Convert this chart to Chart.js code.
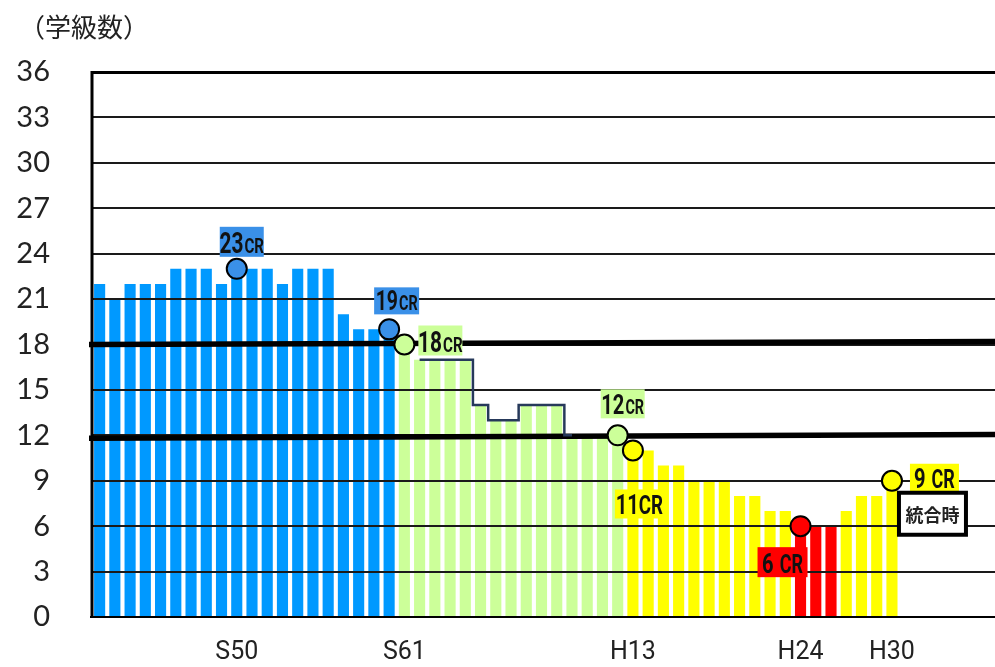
<!DOCTYPE html>
<html>
<head>
<meta charset="utf-8">
<script src="https://cdn.jsdelivr.net/npm/chart.js@4.4.1/dist/chart.umd.min.js"></script>
<style>
  html, body { margin: 0; padding: 0; background: #ffffff; }
  #wrap { width: 995px; height: 667px; position: relative; }
</style>
</head>
<body>
<div id="wrap"><canvas id="chart" width="995" height="667"></canvas></div>
<script>
// School years, Showa 41 through Heisei 30, followed by empty years to the right edge
const years = [
  'S41','S42','S43','S44','S45','S46','S47','S48','S49','S50',
  'S51','S52','S53','S54','S55','S56','S57','S58','S59','S60',
  'S61','S62','S63','H1','H2','H3','H4','H5','H6','H7',
  'H8','H9','H10','H11','H12','H13','H14','H15','H16','H17',
  'H18','H19','H20','H21','H22','H23','H24','H25','H26','H27',
  'H28','H29','H30','R1','R2','R3','R4','R5','R6'
];

// Year labels printed under the axis
const shownYearLabels = ['S50', 'S61', 'H13', 'H24', 'H30'];

// Number of classes per year (S41 .. H30)
const classCounts = [
  22, 21, 22, 22, 22, 23, 23, 23, 22, 23,
  23, 23, 22, 23, 23, 23, 20, 19, 19, 19,
  18, 17, 17, 17, 17, 14, 13, 13, 14, 14,
  14, 12, 12, 12, 12, 11, 11, 10, 10, 9,
  9, 9, 8, 8, 7, 7, 6, 6, 6, 7,
  8, 8, 9
];

// Stepped outline over the S62 .. H9 bars
const outlineYears = ['S62','S63','H1','H2','H3','H4','H5','H6','H7','H8','H9'];
const outlineValues = [17, 17, 17, 17, 14, 13, 13, 14, 14, 14, 12];

// Highlighted years and their class counts
const markerYears = ['S50', 'S60', 'S61', 'H12', 'H13', 'H24', 'H30'];
const markerValues = [23, 19, 18, 12, 11, 6, 9];

// Two bold guide lines: value at the left edge, value at the right edge
const guideLineStarts = [18.0, 11.8];
const guideLineEnds = [18.2, 12.05];

// Y axis ticks
const yTicks = [0, 3, 6, 9, 12, 15, 18, 21, 24, 27, 30, 33, 36];

// ---- styling ----
const BLUE = '#0099ff', GREEN = '#ccff99', YELLOW = '#ffff00', RED = '#ff0000';
const MARK_BLUE = '#3a90e8';
const colourSpans = [
  { from: 'S41', to: 'S60', color: BLUE },
  { from: 'S61', to: 'H12', color: GREEN },
  { from: 'H13', to: 'H30', color: YELLOW },
  { from: 'H24', to: 'H26', color: RED }
];
const markerFills = [MARK_BLUE, MARK_BLUE, GREEN, GREEN, YELLOW, RED, YELLOW];

const LABEL_FONT = 'Roboto, "Noto Sans", sans-serif';
const NUMFONT = 'Lato, "Open Sans", sans-serif';
const CJK = '"Noto Sans CJK JP", "Noto Sans", sans-serif';
const CONDENSE = 0.72;   // horizontal squeeze for callout lettering

// Callout boxes, placed relative to the marker they describe: [dx, dy, w, h]
const callouts = [
  { year: 'S50', big: '23', small: 'CR', fill: MARK_BLUE, box: [-17, -42, 44, 30], bigSize: 29, smallSize: 21, gap: 1 },
  { year: 'S60', big: '19', small: 'CR', fill: MARK_BLUE, box: [-15, -42, 45, 27], bigSize: 27, smallSize: 20, gap: 1 },
  { year: 'S61', big: '18', small: 'CR', fill: GREEN, box: [14, -19, 44, 30], bigSize: 29, smallSize: 21, gap: 1 },
  { year: 'H12', big: '12', small: 'CR', fill: GREEN, box: [-17, -46, 44, 29], bigSize: 28, smallSize: 20, gap: 1 },
  { year: 'H13', big: '11', small: 'CR', fill: YELLOW, box: [-18, 39, 49, 29], bigSize: 28, smallSize: 26, gap: 0 },
  { year: 'H24', big: '6', small: 'CR', fill: RED, box: [-43, 21, 50, 30], bigSize: 28, smallSize: 25, gap: 6 },
  { year: 'H30', big: '9', small: 'CR', fill: YELLOW, box: [18, -17, 49, 28], bigSize: 28, smallSize: 25, gap: 6 }
];
const mergeNote = { year: 'H30', text: '統合時', box: [7, 12, 67, 42] };

function spanColour(label) {
  const i = years.indexOf(label);
  let c = null;
  colourSpans.forEach(s => {
    if (i >= years.indexOf(s.from) && i <= years.indexOf(s.to)) c = s.color;
  });
  return c;
}

const barData = years.map((y, i) => (i < classCounts.length ? classCounts[i] : null));
const barColours = years.map(y => spanColour(y) || BLUE);
const outlineData = years.map(y => {
  const k = outlineYears.indexOf(y);
  return k >= 0 ? outlineValues[k] : null;
});
const markerData = years.map(y => {
  const k = markerYears.indexOf(y);
  return k >= 0 ? markerValues[k] : null;
});
const markerColours = years.map(y => {
  const k = markerYears.indexOf(y);
  return k >= 0 ? markerFills[k] : 'rgba(0,0,0,0)';
});

// Grid, frame and guide lines sit on top of the bars but under markers and callouts
const gridOverBars = {
  id: 'gridOverBars',
  afterDatasetDraw(chart, args) {
    if (args.index !== 0) return;
    const { ctx, chartArea: a } = chart;
    const y = chart.scales.y;
    const right = chart.width;
    ctx.save();
    ctx.strokeStyle = '#1a1a1a';
    ctx.lineWidth = 2;
    yTicks.forEach(v => {
      if (v === 0 || v === 36) return;
      const py = Math.round(y.getPixelForValue(v));
      ctx.beginPath();
      ctx.moveTo(a.left, py);
      ctx.lineTo(right, py);
      ctx.stroke();
    });
    ctx.strokeStyle = '#000';
    // top edge
    ctx.lineWidth = 3;
    const top = Math.round(y.getPixelForValue(36)) + 0.5;
    ctx.beginPath(); ctx.moveTo(a.left, top); ctx.lineTo(right, top); ctx.stroke();
    // bottom edge
    ctx.lineWidth = 2;
    const bottom = Math.round(y.getPixelForValue(0));
    ctx.beginPath(); ctx.moveTo(a.left - 2, bottom); ctx.lineTo(right, bottom); ctx.stroke();
    // left axis
    ctx.lineWidth = 3;
    ctx.beginPath(); ctx.moveTo(a.left, top - 1.5); ctx.lineTo(a.left, bottom + 1); ctx.stroke();
    // bold guide lines
    ctx.lineWidth = 5.5;
    guideLineStarts.forEach((v0, k) => {
      ctx.beginPath();
      ctx.moveTo(a.left - 3, y.getPixelForValue(v0));
      ctx.lineTo(right, y.getPixelForValue(guideLineEnds[k]));
      ctx.stroke();
    });
    ctx.restore();
  }
};

function squeezedText(ctx, text, x, base) {
  ctx.save();
  ctx.translate(x, base);
  ctx.scale(CONDENSE, 1);
  ctx.fillText(text, 0, 0);
  ctx.restore();
}

function drawCallout(ctx, c, cx, cy) {
  const [dx, dy, w, h] = c.box;
  const x = cx + dx, top = cy + dy;
  ctx.fillStyle = c.fill;
  ctx.fillRect(x, top, w, h);
  const bigFont = `bold ${c.bigSize}px ${LABEL_FONT}`;
  const smallFont = `bold ${c.smallSize}px ${LABEL_FONT}`;
  ctx.font = bigFont;
  const w1 = ctx.measureText(c.big).width * CONDENSE;
  ctx.font = smallFont;
  const w2 = ctx.measureText(c.small).width * CONDENSE;
  const tx = x + (w - (w1 + c.gap + w2)) / 2;
  const base = top + h - 4;
  ctx.fillStyle = '#111';
  ctx.textAlign = 'left';
  ctx.textBaseline = 'alphabetic';
  ctx.font = bigFont;
  squeezedText(ctx, c.big, tx, base);
  ctx.font = smallFont;
  squeezedText(ctx, c.small, tx + w1 + c.gap, base);
}

const annotations = {
  id: 'annotations',
  afterDatasetsDraw(chart) {
    const { ctx } = chart;
    const xs = chart.scales.x, ys = chart.scales.y;
    ctx.save();
    callouts.forEach(c => {
      const k = markerYears.indexOf(c.year);
      const cx = xs.getPixelForValue(years.indexOf(c.year));
      const cy = ys.getPixelForValue(markerValues[k]);
      drawCallout(ctx, c, cx, cy);
    });
    // merge note box
    {
      const k = markerYears.indexOf(mergeNote.year);
      const cx = xs.getPixelForValue(years.indexOf(mergeNote.year));
      const cy = ys.getPixelForValue(markerValues[k]);
      const [dx, dy, w, h] = mergeNote.box;
      ctx.fillStyle = '#fff';
      ctx.fillRect(cx + dx, cy + dy, w, h);
      ctx.lineWidth = 4;
      ctx.strokeStyle = '#000';
      ctx.strokeRect(cx + dx, cy + dy, w, h);
      ctx.fillStyle = '#222';
      ctx.font = `bold 18px ${CJK}`;
      ctx.textAlign = 'center';
      ctx.textBaseline = 'middle';
      ctx.fillText(mergeNote.text, cx + dx + w / 2, cy + dy + h / 2 + 1);
    }
    // unit caption
    ctx.fillStyle = '#222';
    ctx.font = `26px ${CJK}`;
    ctx.textAlign = 'left';
    ctx.textBaseline = 'middle';
    ctx.fillText('（学級数）', 19, 27);
    ctx.restore();
  }
};

new Chart(document.getElementById('chart'), {
  data: {
    labels: years,
    datasets: [
      {
        type: 'bar',
        label: '学級数',
        data: barData,
        backgroundColor: barColours,
        borderWidth: 0,
        barPercentage: 0.73,
        categoryPercentage: 1.0,
        order: 3
      },
      {
        type: 'line',
        label: 'outline',
        data: outlineData,
        stepped: 'middle',
        borderColor: '#26395a',
        borderWidth: 2.5,
        pointRadius: 0,
        fill: false,
        spanGaps: false,
        order: 2
      },
      {
        type: 'line',
        label: 'markers',
        data: markerData,
        showLine: false,
        pointRadius: 10,
        pointHoverRadius: 10,
        pointBorderWidth: 2,
        pointBorderColor: '#000',
        pointBackgroundColor: markerColours,
        order: 1
      }
    ]
  },
  options: {
    responsive: false,
    animation: false,
    devicePixelRatio: 1,
    layout: { autoPadding: false, padding: { top: 72, right: 4, bottom: 0, left: 0 } },
    plugins: {
      legend: { display: false },
      tooltip: { enabled: false },
      title: { display: false }
    },
    scales: {
      x: {
        type: 'category',
        offset: true,
        grid: { display: false, drawTicks: false },
        border: { display: false },
        ticks: {
          autoSkip: false,
          maxRotation: 0,
          minRotation: 0,
          padding: 0,
          color: '#222',
          font: { family: LABEL_FONT, size: 25, lineHeight: 2.85 },
          callback: function (value, index) {
            const lab = years[index];
            return shownYearLabels.includes(lab) ? lab : '';
          }
        },
        afterFit: s => { s.height = 50; }
      },
      y: {
        min: 0,
        max: 36,
        afterBuildTicks: s => { s.ticks = yTicks.map(v => ({ value: v })); },
        grid: { display: false, drawTicks: false },
        border: { display: false },
        ticks: {
          padding: 42,
          color: '#222',
          font: { family: NUMFONT, size: 29 }
        },
        afterFit: s => { s.width = 92; s.paddingTop = 0; s.paddingBottom = 0; }
      }
    }
  },
  plugins: [gridOverBars, annotations]
});
</script>
</body>
</html>
